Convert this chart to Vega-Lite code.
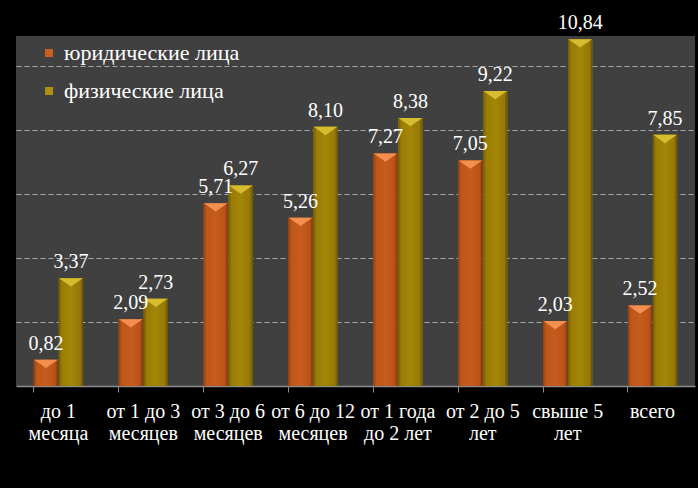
{
  "$schema": "https://vega.github.io/schema/vega-lite/v6.json",
  "width": 679,
  "height": 350,
  "autosize": {"type": "none"},
  "padding": {"left": 16, "top": 36, "right": 3, "bottom": 102},
  "background": "#000000",
  "config": {
    "view": {"fill": "#404040", "stroke": null},
    "locale": {"number": {"decimal": ",", "thousands": " ", "grouping": [3], "currency": ["", ""]}},
    "font": "Liberation Serif"
  },
  "data": {
    "values": [
      {"cat": "до 1|месяца", "series": "юридические лица", "value": 0.82},
      {"cat": "до 1|месяца", "series": "физические лица", "value": 3.37},
      {"cat": "от 1 до 3|месяцев", "series": "юридические лица", "value": 2.09},
      {"cat": "от 1 до 3|месяцев", "series": "физические лица", "value": 2.73},
      {"cat": "от 3 до 6|месяцев", "series": "юридические лица", "value": 5.71},
      {"cat": "от 3 до 6|месяцев", "series": "физические лица", "value": 6.27},
      {"cat": "от 6 до 12|месяцев", "series": "юридические лица", "value": 5.26},
      {"cat": "от 6 до 12|месяцев", "series": "физические лица", "value": 8.10},
      {"cat": "от 1 года|до 2 лет", "series": "юридические лица", "value": 7.27},
      {"cat": "от 1 года|до 2 лет", "series": "физические лица", "value": 8.38},
      {"cat": "от 2 до 5|лет", "series": "юридические лица", "value": 7.05},
      {"cat": "от 2 до 5|лет", "series": "физические лица", "value": 9.22},
      {"cat": "свыше 5|лет", "series": "юридические лица", "value": 2.03},
      {"cat": "свыше 5|лет", "series": "физические лица", "value": 10.84},
      {"cat": "всего", "series": "юридические лица", "value": 2.52},
      {"cat": "всего", "series": "физические лица", "value": 7.85}
    ]
  },
  "encoding": {
    "x": {
      "field": "cat", "type": "nominal", "sort": null,
      "scale": {"paddingInner": 0.42, "paddingOuter": 0.21},
      "axis": {
        "title": null, "labelAngle": 0, "labelExpr": "split(datum.value, '|')",
        "labelFont": "Liberation Serif", "labelFontSize": 20, "labelColor": "#ffffff",
        "labelLineHeight": 22, "labelPadding": 9, "labelBaseline": "top",
        "bandPosition": 0, "tickSize": 6, "tickColor": "#8c8c8c", "tickWidth": 1,
        "domainColor": "#8c8c8c", "domainWidth": 1.5, "grid": false
      }
    },
    "xOffset": {"field": "series", "type": "nominal", "scale": {"domain": ["юридические лица", "физические лица"], "paddingInner": 0.03}},
    "y": {
      "field": "value", "type": "quantitative",
      "scale": {"domain": [0, 10.94], "nice": false},
      "axis": {
        "title": null, "labels": false, "ticks": false, "domain": false,
        "values": [2, 4, 6, 8, 10], "grid": true, "gridColor": "#a8a8a8",
        "gridDash": [5, 3], "gridWidth": 1
      }
    }
  },
  "layer": [
    {
      "mark": {"type": "bar"},
      "encoding": {
        "color": {
          "field": "series", "type": "nominal",
          "scale": {"domain": ["юридические лица", "физические лица"], "range": ["#C8601E", "#B09010"]},
          "legend": {
            "title": null, "orient": "none", "legendX": 22, "legendY": 6,
            "padding": 0, "symbolType": "square", "symbolSize": 64, "symbolStrokeWidth": 0,
            "labelFont": "Liberation Serif", "labelFontSize": 22, "labelColor": "#ffffff",
            "labelOffset": 4, "rowPadding": 16, "labelLimit": 400
          }
        }
      }
    },
    {
      "transform": [{"filter": "datum.series === 'юридические лица'"}],
      "mark": {
        "type": "bar",
        "color": {"gradient": "linear", "x1": 0, "x2": 1, "y1": 0, "y2": 0,
          "stops": [{"offset": 0, "color": "#8E3E10"}, {"offset": 0.12, "color": "#BE561A"}, {"offset": 0.5, "color": "#C65C1E"}, {"offset": 0.88, "color": "#BA5218"}, {"offset": 1, "color": "#7E360E"}]}
      }
    },
    {
      "transform": [{"filter": "datum.series === 'физические лица'"}],
      "mark": {
        "type": "bar",
        "color": {"gradient": "linear", "x1": 0, "x2": 1, "y1": 0, "y2": 0,
          "stops": [{"offset": 0, "color": "#6E5804"}, {"offset": 0.12, "color": "#9A7C06"}, {"offset": 0.5, "color": "#A48608"}, {"offset": 0.88, "color": "#967806"}, {"offset": 1, "color": "#645002"}]}
      }
    },
    {
      "mark": {"type": "point", "shape": "M-1,0L1,0L0,0.7Z", "filled": true, "size": 560, "opacity": 1},
      "encoding": {
        "fill": {
          "field": "series", "type": "nominal", "legend": null,
          "scale": {"domain": ["юридические лица", "физические лица"], "range": ["#F39050", "#D8BC30"]}
        }
      }
    },
    {
      "mark": {"type": "text", "baseline": "bottom", "dy": -6, "font": "Liberation Serif", "fontSize": 20, "color": "#ffffff"},
      "encoding": {"text": {"field": "value", "type": "quantitative", "format": ".2f"}}
    }
  ]
}
